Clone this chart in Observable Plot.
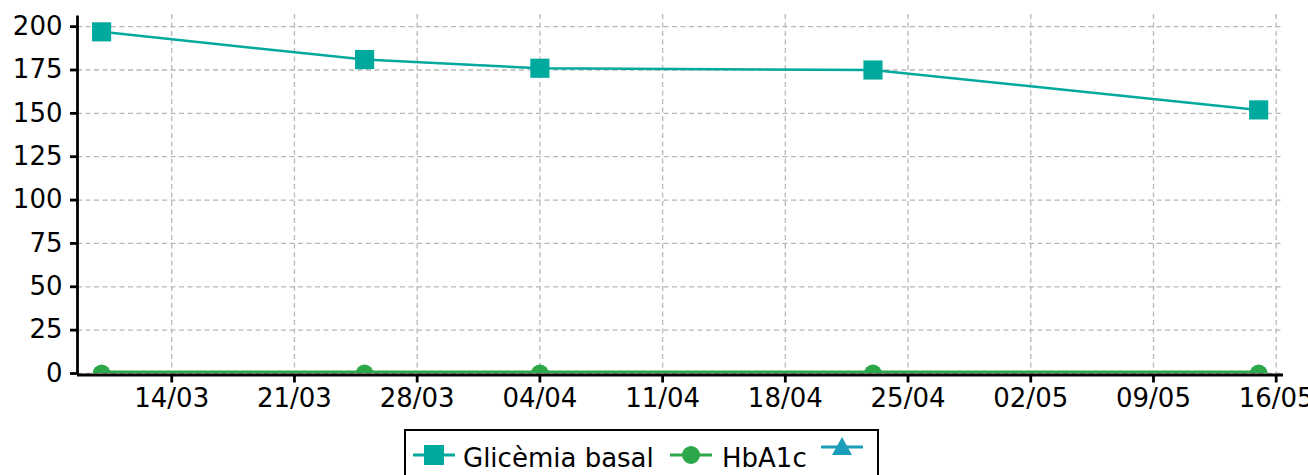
<!DOCTYPE html>
<html>
<head>
<meta charset="utf-8">
<script src="https://cdn.jsdelivr.net/npm/d3@7"></script>
<script src="https://cdn.jsdelivr.net/npm/@observablehq/plot@0.6"></script>
<style>
  html, body { margin: 0; padding: 0; background: #fff; overflow: hidden; }
  body { width: 1308px; height: 475px; position: relative; font-family: "DejaVu Sans", sans-serif; }
  #chart { position: absolute; left: 0; top: 0; }
  #legend { position: absolute; left: 404px; top: 429px; width: 475px; height: 60px;
            border: 2.5px solid #000; background: #fff; box-sizing: border-box; }
  .item { position: absolute; top: 0; height: 50px; }
  .item svg { position: absolute; left: 0; top: 0; }
  .item span { position: absolute; top: 12px; font-size: 26px; color: #000; white-space: nowrap; line-height: 30px; }
</style>
</head>
<body>
<div id="chart"></div>
<div id="legend"></div>
<script>
// ---- data ----
const dates = ["2023-03-10", "2023-03-25", "2023-04-04", "2023-04-23", "2023-05-15"];
const glicemia = [197, 181, 176, 175, 152];
const hba1c = [0, 0, 0, 0, 0];
const seriesNames = ["Glicèmia basal", "HbA1c", ""];
const seriesColors = ["#00a99d", "#2ca84a", "#1b9db9"];
const seriesSymbols = ["square", "circle", "triangle"];
const yTicks = [0, 25, 50, 75, 100, 125, 150, 175, 200];
const xTickDates = ["2023-03-14", "2023-03-21", "2023-03-28", "2023-04-04", "2023-04-11",
                    "2023-04-18", "2023-04-25", "2023-05-02", "2023-05-09", "2023-05-16"];
const xDomain = ["2023-03-08T15:00", "2023-05-16T10:00"];
const yDomain = [0, 207];

const parse = s => new Date(s + (s.length === 10 ? "T00:00Z" : ":00Z"));
const glic = dates.map((d, i) => ({date: parse(d), value: glicemia[i]}));
const hb = dates.map((d, i) => ({date: parse(d), value: hba1c[i]}));
const xt = xTickDates.map(parse);

const gridStyle = {stroke: "#b8b8b8", strokeOpacity: 1, strokeWidth: 1.3, strokeDasharray: "5,3.5"};

const chart = Plot.plot({
  width: 1308,
  height: 427,
  marginLeft: 77,
  marginRight: 25,
  marginTop: 14,
  marginBottom: 54,
  style: {fontFamily: "DejaVu Sans, sans-serif", fontSize: "26px", color: "#000", background: "#fff"},
  x: {type: "utc", domain: xDomain.map(parse)},
  y: {domain: yDomain},
  marks: [
    Plot.gridY(yTicks, gridStyle),
    Plot.gridX(xt, gridStyle),
    Plot.line(hb, {x: "date", y: "value", stroke: seriesColors[1], strokeWidth: 6, clip: true}),
    Plot.dot(hb, {x: "date", y: "value", fill: seriesColors[1], r: 9, symbol: "circle", clip: true}),
    Plot.ruleY([0], {stroke: "#000", strokeWidth: 2.8, dy: 1.5}),
    Plot.ruleX([parse(xDomain[0])], {stroke: "#000", strokeWidth: 2.8, y1: 0, y2: yDomain[1], dy: 1.5}),
    Plot.line(glic, {x: "date", y: "value", stroke: seriesColors[0], strokeWidth: 2.5}),
    Plot.dot(glic, {x: "date", y: "value", fill: seriesColors[0], r: 10.8, symbol: "square"}),
    Plot.axisY(yTicks, {tickSize: 7, tickPadding: 8, strokeWidth: 2.8, stroke: "#000", fontSize: 26, fill: "#000", label: null}),
    Plot.axisX(xt, {tickSize: 8, tickPadding: 6, strokeWidth: 2.8, stroke: "#000", fontSize: 26, fill: "#000",
                    tickFormat: d3.utcFormat("%d/%m"), label: null, dy: 1.5})
  ]
});
document.getElementById("chart").appendChild(chart);

// ---- legend ----
const legend = document.getElementById("legend");
const glyphLeft = [7, 264, 415];   // inside the legend box
const textLeft = [57, 316];
const symbolPaths = {
  square: '<rect x="11" y="14" width="20" height="20"/>',
  circle: '<circle cx="21" cy="24" r="9"/>',
  triangle: '<polygon points="21,6 31,24 11,24"/>'
};
seriesNames.forEach((name, i) => {
  const item = document.createElement("div");
  item.className = "item";
  item.style.left = glyphLeft[i] + "px";
  const ly = seriesSymbols[i] === "triangle" ? 16 : 24;
  item.innerHTML = `<svg width="42" height="40" viewBox="0 0 42 40">
      <line x1="0" x2="42" y1="${ly}" y2="${ly}" stroke="${seriesColors[i]}" stroke-width="3"/>
      <g fill="${seriesColors[i]}">${symbolPaths[seriesSymbols[i]]}</g></svg>`;
  legend.appendChild(item);
  if (name) {
    const t = document.createElement("div");
    t.className = "item";
    t.style.left = textLeft[i] + "px";
    t.innerHTML = `<span>${name}</span>`;
    legend.appendChild(t);
  }
});
</script>
</body>
</html>
